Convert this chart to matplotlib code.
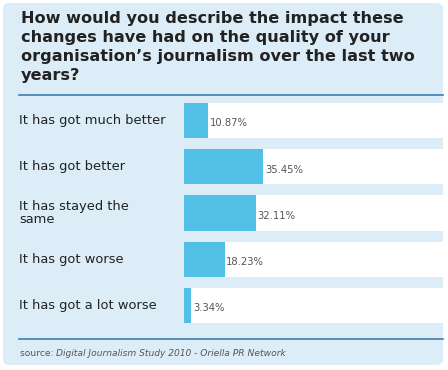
import matplotlib.pyplot as plt
from matplotlib.patches import FancyBboxPatch
from matplotlib.lines import Line2D
from matplotlib.transforms import blended_transform_factory

W, H = 448, 370

categories = [
    "It has got much better",
    "It has got better",
    "It has stayed the\nsame",
    "It has got worse",
    "It has got a lot worse",
]
values = [10.87, 35.45, 32.11, 18.23, 3.34]
value_labels = ["10.87%", "35.45%", "32.11%", "18.23%", "3.34%"]

title = ("How would you describe the impact these\n"
         "changes have had on the quality of your\n"
         "organisation\u2019s journalism over the last two\n"
         "years?")

PANEL = "#dcedf7"
BAR = "#52bfe4"
LINE = "#3f7fb0"


def fx(px):
    return px / W


def fy(py):
    return 1 - py / H


fig = plt.figure(figsize=(W / 100, H / 100), dpi=100)
fig.patch.set_facecolor("white")

# rounded panel behind everything
panel = FancyBboxPatch((fx(3), fy(365)), fx(440), 362 / H,
                       boxstyle="round,pad=0,rounding_size=0.015",
                       transform=fig.transFigure, facecolor=PANEL,
                       edgecolor="none", zorder=-5)
fig.patches.append(panel)

fig.text(fx(21), fy(11), title, ha="left", va="top", fontsize=11.6,
         fontweight="bold", color="#222222", linespacing=1.32,
         family="DejaVu Sans")

for ypx in (95, 339):
    fig.lines.append(Line2D([fx(19), fx(443)], [fy(ypx), fy(ypx)],
                            transform=fig.transFigure, color=LINE, lw=1.2))

ax = fig.add_axes([fx(184), fy(323), fx(443) - fx(184), (323 - 103) / H])
ax.set_zorder(2)
ax.set_facecolor("none")
xmax = 115.5
pos = list(range(len(values)))
ax.barh(pos, [xmax] * len(values), height=0.76, color="white", zorder=1)
ax.barh(pos, values, height=0.76, color=BAR, zorder=2)
ax.set_xlim(0, xmax)
ax.set_ylim(len(values) - 1 + 0.38, -0.38)
ax.axis("off")

for p, v, lab in zip(pos, values, value_labels):
    ax.annotate(lab, (v, p), xytext=(1, -2), textcoords="offset points",
                ha="left", va="center", fontsize=8.0, color="#555555",
                family="DejaVu Sans", fontstretch="condensed", zorder=3)

tr = blended_transform_factory(fig.transFigure, ax.transData)
for p, cat in zip(pos, categories):
    ax.text(fx(19), p, cat, transform=tr, ha="left", va="center",
            fontsize=9.4, color="#222222", linespacing=0.95, clip_on=False)

fig.text(fx(20), fy(353), "source: ", ha="left", va="center",
         fontsize=6.6, color="#555555")
fig.text(fx(56), fy(353), "Digital Journalism Study 2010 - Oriella PR Network",
         ha="left", va="center", fontsize=6.6, color="#555555", style="italic")

fig.savefig("out.png", dpi=100, facecolor="white")
